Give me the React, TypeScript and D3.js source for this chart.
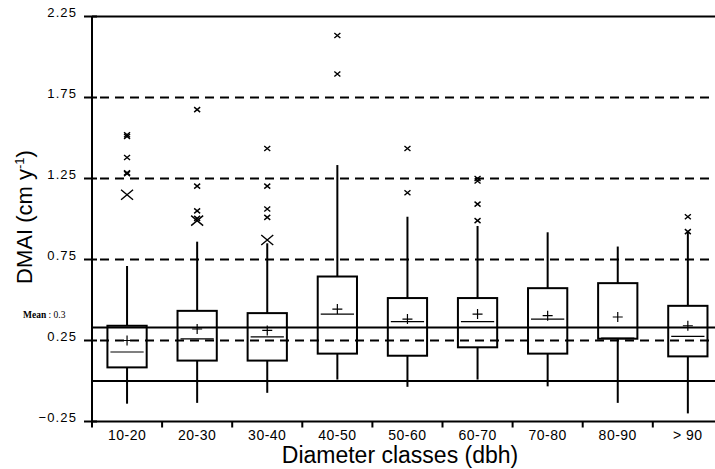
import React, { useEffect, useRef } from 'react';
import * as d3 from 'd3';

// diameter classes and box statistics (cm/yr)
const classes = ['10-20', '20-30', '30-40', '40-50', '50-60', '60-70', '70-80', '80-90', '> 90'];
const q1 = [0.084, 0.126, 0.126, 0.169, 0.156, 0.208, 0.169, 0.261, 0.152];
const q3 = [0.341, 0.433, 0.419, 0.645, 0.512, 0.512, 0.573, 0.604, 0.464];
const medians = [0.179, 0.26, 0.272, 0.413, 0.366, 0.366, 0.382, 0.265, 0.275];
const means = [0.25, 0.321, 0.312, 0.444, 0.382, 0.413, 0.403, 0.395, 0.341];
const whiskLow = [-0.14, -0.135, -0.073, 0.009, -0.036, 0.009, -0.033, -0.135, -0.2];
const whiskHigh = [0.71, 0.86, 0.85, 1.333, 1.014, 0.957, 0.918, 0.83, 0.922];
const outliers = [
  [1.52, 1.51, 1.38, 1.285, 1.28],
  [1.675, 1.203, 1.05, 1.004],
  [1.435, 1.203, 1.062, 1.01],
  [2.133, 1.895],
  [1.435, 1.162],
  [1.25, 1.235, 1.092, 0.99],
  [],
  [],
  [1.014, 0.922],
];
// far outliers drawn with the large cross
const farOutliers = [[1.15], [0.99], [0.87], [], [], [], [], [], []];
const yTicks = [-0.25, 0.25, 0.75, 1.25, 1.75, 2.25];
const dashedAt = [0.25, 0.75, 1.25, 1.75];
const meanAll = 0.33;

export default function App() {
  const ref = useRef<SVGSVGElement>(null);

  useEffect(() => {
    const svg = d3.select(ref.current);
    svg.selectAll('*').remove();
    const left = 92, right = 715;
    const font = 'Liberation Sans, Arial, sans-serif';

    const x = d3.scaleBand<string>().domain(classes).range([left, left + 9 * 70.1]);
    const y = d3.scaleLinear().domain([-0.25, 2.25]).range([421.5, 16.5]);
    const bw = x.bandwidth() * 0.56;

    // horizontal reference lines
    svg.selectAll('line.dash')
      .data(dashedAt)
      .join('line')
      .attr('x1', left + 8).attr('x2', right)
      .attr('y1', d => y(d)).attr('y2', d => y(d))
      .attr('stroke', '#000').attr('stroke-width', 2)
      .attr('stroke-dasharray', '9,6');

    const solid = [0, meanAll, 2.25];
    svg.selectAll('line.solid')
      .data(solid)
      .join('line')
      .attr('x1', left).attr('x2', right)
      .attr('y1', d => y(d)).attr('y2', d => y(d))
      .attr('stroke', '#000').attr('stroke-width', 2);

    // axes
    svg.append('line')
      .attr('x1', left).attr('x2', left).attr('y1', y(2.25)).attr('y2', y(-0.25))
      .attr('stroke', '#000').attr('stroke-width', 2);
    svg.append('line')
      .attr('x1', left).attr('x2', right).attr('y1', y(-0.25)).attr('y2', y(-0.25))
      .attr('stroke', '#000').attr('stroke-width', 2);

    svg.selectAll('line.ytick')
      .data(yTicks)
      .join('line')
      .attr('x1', left - 8).attr('x2', left + 5)
      .attr('y1', d => y(d)).attr('y2', d => y(d))
      .attr('stroke', '#000').attr('stroke-width', 2);

    svg.selectAll('text.ylab')
      .data(yTicks)
      .join('text')
      .attr('x', 77).attr('y', d => y(d) + 0.5)
      .attr('text-anchor', 'end')
      .attr('font-family', font)
      .attr('font-size', 13)
      .attr('letter-spacing', 1.1)
      .text(d => d3.format('.2f')(d));

    svg.selectAll('line.xtick')
      .data(classes)
      .join('line')
      .attr('x1', d => x(d)!).attr('x2', d => x(d)!)
      .attr('y1', y(-0.25)).attr('y2', y(-0.25) + 6)
      .attr('stroke', '#000').attr('stroke-width', 2);

    svg.selectAll('text.xlab')
      .data(classes)
      .join('text')
      .attr('x', d => x(d)! + x.bandwidth() / 2)
      .attr('y', 440)
      .attr('text-anchor', 'middle')
      .attr('font-family', font)
      .attr('font-size', 14)
      .attr('letter-spacing', 0.5)
      .text(d => d);

    // boxes
    const g = svg.selectAll('g.box')
      .data(classes)
      .join('g')
      .attr('transform', d => `translate(${x(d)! + x.bandwidth() / 2},0)`);

    g.append('line')
      .attr('x1', 0).attr('x2', 0)
      .attr('y1', (d, i) => y(whiskHigh[i])).attr('y2', (d, i) => y(q3[i]))
      .attr('stroke', '#000').attr('stroke-width', 2);
    g.append('line')
      .attr('x1', 0).attr('x2', 0)
      .attr('y1', (d, i) => y(q1[i])).attr('y2', (d, i) => y(whiskLow[i]))
      .attr('stroke', '#000').attr('stroke-width', 2);
    g.append('rect')
      .attr('x', -bw / 2).attr('width', bw)
      .attr('y', (d, i) => y(q3[i]))
      .attr('height', (d, i) => y(q1[i]) - y(q3[i]))
      .attr('fill', 'none').attr('stroke', '#000').attr('stroke-width', 2);
    g.append('line')
      .attr('x1', -bw / 2 + 3).attr('x2', bw / 2 - 3)
      .attr('y1', (d, i) => y(medians[i])).attr('y2', (d, i) => y(medians[i]))
      .attr('stroke', '#000').attr('stroke-width', 1.2);
    // mean crosses
    g.append('path')
      .attr('d', (d, i) => `M-5,${y(means[i])}H5M0,${y(means[i]) - 5}V${y(means[i]) + 5}`)
      .attr('stroke', '#000').attr('stroke-width', 1.2).attr('fill', 'none');

    // outliers
    g.each(function (d, i) {
      const grp = d3.select(this);
      grp.selectAll('path.out')
        .data(outliers[i])
        .join('path')
        .attr('d', v => `M-3,${y(v) - 2.5}L3,${y(v) + 2.5}M3,${y(v) - 2.5}L-3,${y(v) + 2.5}`)
        .attr('stroke', '#000').attr('stroke-width', 1.4);
      grp.selectAll('path.far')
        .data(farOutliers[i])
        .join('path')
        .attr('d', v => `M-6,${y(v) - 5}L6,${y(v) + 5}M6,${y(v) - 5}L-6,${y(v) + 5}`)
        .attr('stroke', '#000').attr('stroke-width', 1.4);
    });

    // titles
    svg.append('text')
      .attr('x', 23).attr('y', 318)
      .attr('font-family', 'Liberation Serif, Times New Roman, serif')
      .attr('font-size', 9.5)
      .html('<tspan font-weight="bold">Mean</tspan> : 0.3');

    svg.append('text')
      .attr('x', 400).attr('y', 463)
      .attr('text-anchor', 'middle')
      .attr('font-family', font)
      .attr('font-size', 23)
      .text('Diameter classes (dbh)');

    svg.append('text')
      .attr('transform', 'translate(32,217) rotate(-90)')
      .attr('text-anchor', 'middle')
      .attr('font-family', font)
      .attr('font-size', 22)
      .html('DMAI (cm y<tspan dy="-8" font-size="13">-1</tspan><tspan dy="8">)</tspan>');
  }, []);

  return (
    <svg ref={ref} width={715} height={469}
      style={{ position: 'absolute', left: 0, top: 0, background: '#fff' }} />
  );
}
